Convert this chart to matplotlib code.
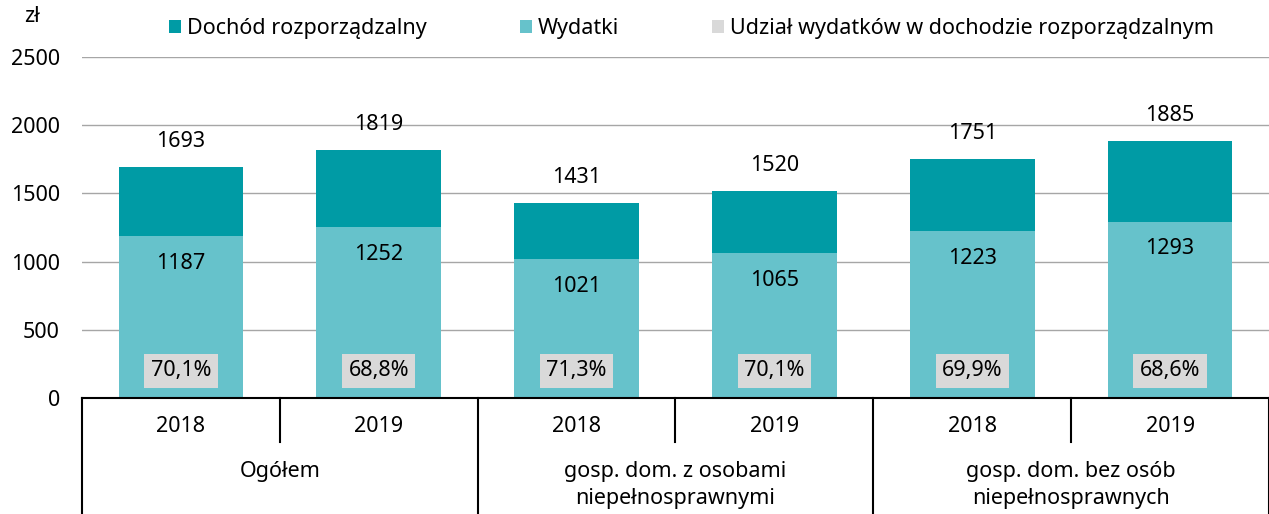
import matplotlib.pyplot as plt
from matplotlib.transforms import blended_transform_factory

plt.rcParams['font.family'] = ['Noto Sans', 'DejaVu Sans']

years = ['2018', '2019', '2018', '2019', '2018', '2019']
groups = ['Ogółem', 'gosp. dom. z osobami\nniepełnosprawnymi', 'gosp. dom. bez osób\nniepełnosprawnych']
dochod = [1693, 1819, 1431, 1520, 1751, 1885]
wydatki = [1187, 1252, 1021, 1065, 1223, 1293]
udzial = ['70,1%', '68,8%', '71,3%', '70,1%', '69,9%', '68,6%']

c_doch = '#009BA5'
c_wyd = '#66C2CB'
c_udz = '#D9D9D9'
fs = 15.5

fig = plt.figure(figsize=(12.69, 5.14), dpi=100)
ax = fig.add_axes([0.0646, 0.2257, 0.9354, 0.6633])

x = list(range(len(years)))
ax.bar(x, dochod, width=0.63, color=c_doch, label='Dochód rozporządzalny', zorder=2)
ax.bar(x, wydatki, width=0.63, color=c_wyd, label='Wydatki', zorder=3)
ax.bar([0], [0], color=c_udz, label='Udział wydatków w dochodzie rozporządzalnym')

for i in x:
    ax.text(i, dochod[i] + 185, str(dochod[i]), ha='center', va='center', fontsize=fs, zorder=5)
    ax.text(i, wydatki[i] - 200, str(wydatki[i]), ha='center', va='center', fontsize=fs, zorder=5)
    ax.text(i, 198, udzial[i], ha='center', va='center', fontsize=fs, zorder=5,
            bbox=dict(boxstyle='square,pad=0.3', fc=c_udz, ec='none'))

ax.set_xlim(-0.5, 5.5)
ax.set_ylim(0, 2500)
ax.set_yticks(range(0, 2501, 500))
ax.tick_params(axis='y', length=0, labelsize=fs, pad=16)
ax.set_xticks([])
ax.grid(axis='y', color='#A6A6A6', linewidth=1, zorder=0)
for s in ['top', 'right', 'left']:
    ax.spines[s].set_visible(False)
ax.spines['bottom'].set_color('black')
ax.spines['bottom'].set_linewidth(1.5)
ax.spines['bottom'].set_zorder(6)

# multi-level x axis
tr = blended_transform_factory(ax.transData, ax.transAxes)
for i in x:
    ax.text(i, -0.085, years[i], transform=tr, ha='center', va='center', fontsize=fs)
for k, g in enumerate(groups):
    ax.text(2 * k + 0.5, -0.185, g, transform=tr, ha='center', va='top', fontsize=fs,
            linespacing=1.4)
for b in [-0.5, 0.5, 1.5, 2.5, 3.5, 4.5, 5.5]:
    long_line = (b + 0.5) % 2 == 0
    y0 = -0.4 if long_line else -0.13
    ax.plot([b, b], [0, y0], transform=tr, color='black', lw=1.5, clip_on=False)

fig.text(32 / 1269, 1 - 16 / 514, 'zł', ha='center', va='center', fontsize=fs)

fig.legend(loc='center', bbox_to_anchor=(0.545, 0.945), ncol=3, frameon=False, fontsize=fs,
           handlelength=0.55, handleheight=0.55, handletextpad=0.3, columnspacing=4.3)

plt.savefig('out.png', dpi=100)
